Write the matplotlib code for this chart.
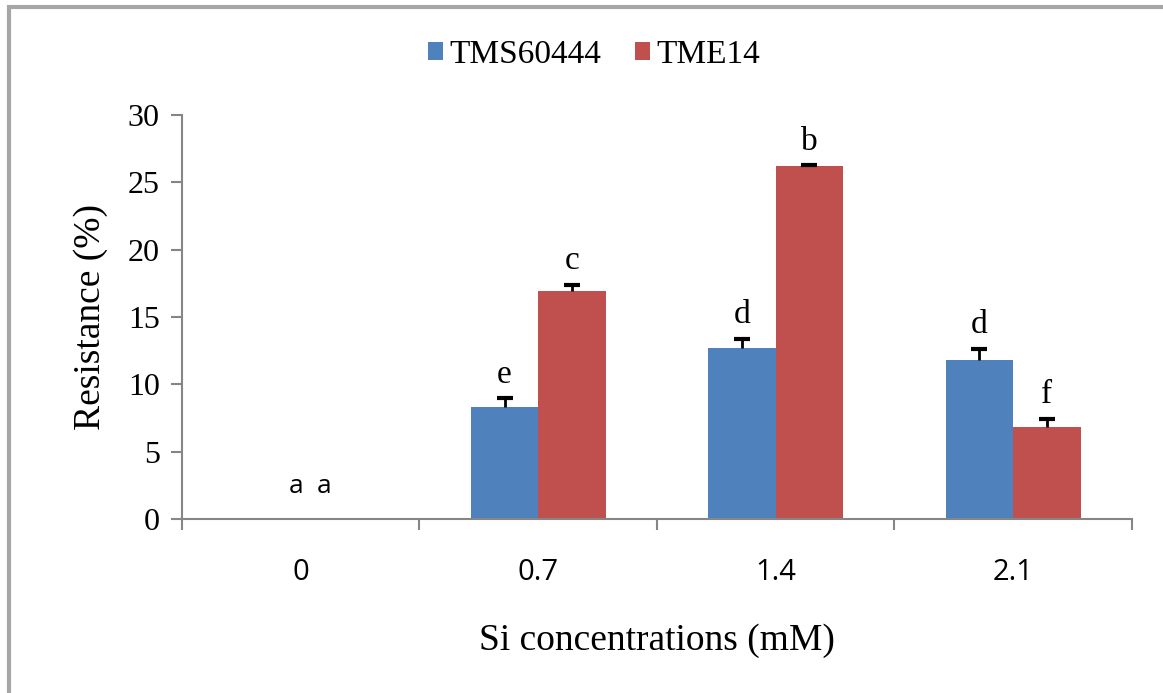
import matplotlib
matplotlib.use('Agg')
import matplotlib.pyplot as plt
from matplotlib.patches import Rectangle
import numpy as np

# data
categories = ['0', '0.7', '1.4', '2.1']
tms60444 = [0, 8.3, 12.7, 11.8]
tms60444_err = [0, 0.65, 0.7, 0.85]
tme14 = [0, 16.9, 26.2, 6.8]
tme14_err = [0, 0.5, 0.1, 0.65]
tms_letters = ['a', 'e', 'd', 'd']
tme_letters = ['a', 'c', 'b', 'f']

blue = '#4F81BD'
red = '#C0504D'
axis_gray = '#868686'
serif = 'Liberation Serif'
sans = 'Open Sans'

fig = plt.figure(figsize=(11.63, 6.93), dpi=100)
ax = fig.add_axes([0.1565, 0.2511, 0.8168, 0.5829])

# gray frame around the chart (right and bottom edges fall off the image)
fig.patches.append(Rectangle((9 / 1163, -0.1), 1.2, 1 - 7 / 693 + 0.1,
                             transform=fig.transFigure, fill=False,
                             edgecolor='#a6a6a6', linewidth=3))

x = np.arange(len(categories))
w = 0.284
ax.bar(x - w / 2, tms60444, w, color=blue, label='TMS60444', zorder=2)
ax.bar(x + w / 2, tme14, w, color=red, label='TME14', zorder=2)

# plus-only error bars (stem + top cap)
for xs, vals, errs in [(x - w / 2, tms60444, tms60444_err), (x + w / 2, tme14, tme14_err)]:
    vals = np.array(vals[1:])
    errs = np.array(errs[1:])
    ax.vlines(xs[1:], vals, vals + errs, color='black', linewidth=2, zorder=3)
    ax.plot(xs[1:], vals + errs, linestyle='none', marker='_', markersize=12,
            markeredgewidth=3, color='black', zorder=3)

# significance letters
for i in range(1, len(categories)):
    ax.annotate(tms_letters[i], (x[i] - w / 2, tms60444[i] + tms60444_err[i]),
                xytext=(0, 6), textcoords='offset points', ha='center', va='bottom',
                family=serif, fontsize=24)
    ax.annotate(tme_letters[i], (x[i] + w / 2, tme14[i] + tme14_err[i]),
                xytext=(0, 6), textcoords='offset points', ha='center', va='bottom',
                family=serif, fontsize=24)
ax.text(-0.02, 1.5, tms_letters[0], ha='center', va='bottom', family=sans, fontsize=19)
ax.text(0.1, 1.5, tme_letters[0], ha='center', va='bottom', family=sans, fontsize=19)

ax.set_xlim(-0.5, 3.5)
ax.set_ylim(0, 30)
ax.set_yticks(range(0, 31, 5))
ax.set_xticks(np.arange(-0.5, 4, 1))
ax.set_xticklabels([])
ax.set_xticks(x, minor=True)
ax.set_xticklabels(categories, minor=True, family=sans, fontsize=21)
ax.tick_params(axis='x', which='minor', length=0, pad=28)
ax.tick_params(axis='x', which='major', length=8, width=1.5, color=axis_gray)
ax.tick_params(axis='y', length=8, width=1.5, color=axis_gray, pad=8)
for lab in ax.get_yticklabels():
    lab.set_family(serif)
    lab.set_fontsize(23)

for side in ['top', 'right']:
    ax.spines[side].set_visible(False)
for side in ['left', 'bottom']:
    ax.spines[side].set_color(axis_gray)
    ax.spines[side].set_linewidth(1.5)

ax.set_ylabel('Resistance (%)', family=serif, fontsize=27, labelpad=14)
ax.set_xlabel('Si concentrations (mM)', family=serif, fontsize=27, labelpad=26)

fig.legend(loc='center', bbox_to_anchor=(594 / 1163, 1 - 55 / 693), ncol=2,
           frameon=False, prop={'family': serif, 'size': 24},
           handlelength=0.45, handleheight=0.45, handletextpad=0.2, columnspacing=1.0)

fig.savefig('out.png', dpi=100)
